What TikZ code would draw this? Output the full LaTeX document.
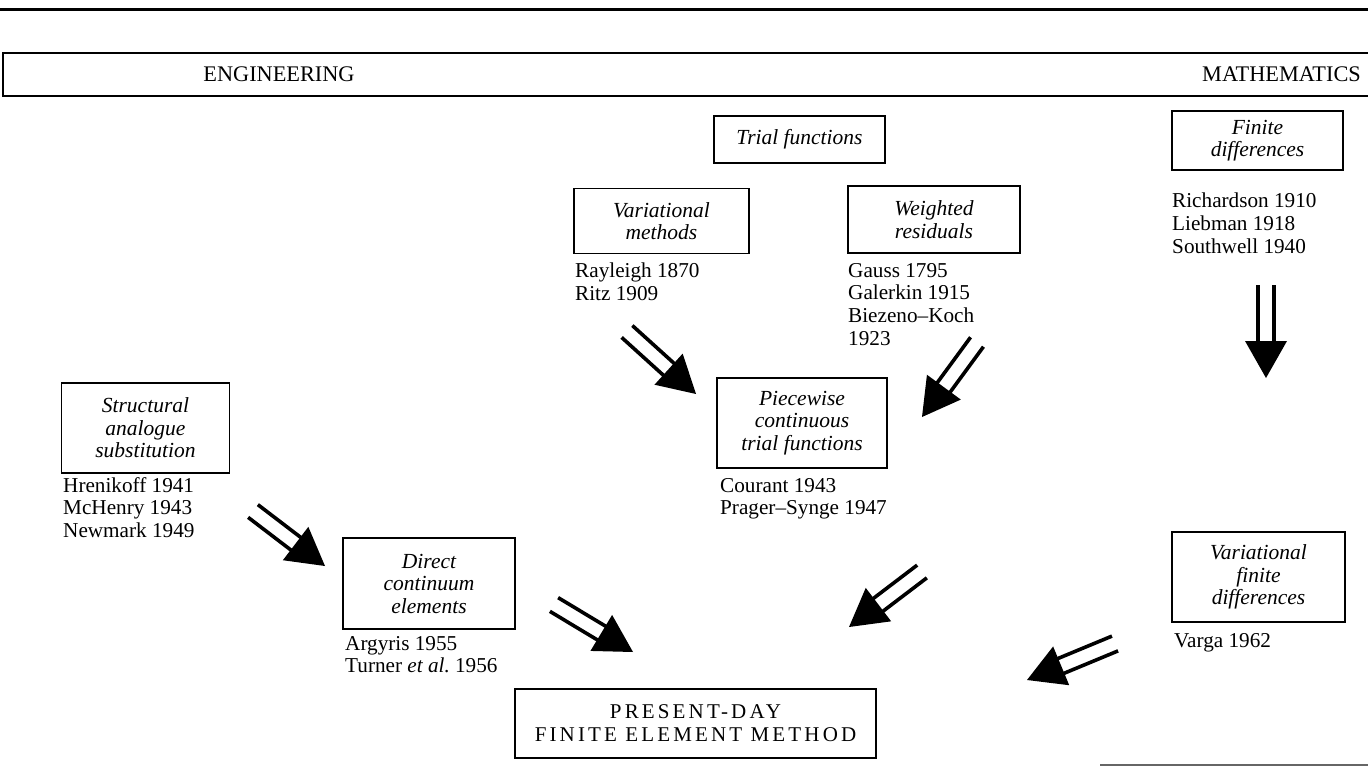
\documentclass[tikz,border=0pt]{standalone}
\usepackage{fontspec}
\setmainfont{Liberation Serif}
\usetikzlibrary{calc}

\newcommand\topicfont{\itshape\fontsize{21.5}{22.5}\selectfont}
\newcommand\listfont{\frenchspacing\fontsize{21.2}{22.7}\selectfont}
\newcommand\bannerfont{\fontsize{22.3}{23}\selectfont}
\newcommand\femfont{\fontsize{21}{23}\selectfont\addfontfeature{LetterSpace=15}}

% geometry of the double-shafted arrows
\newcommand\headlen{37pt}
\newcommand\headhalf{21pt}
\newcommand\shaftgap{8pt}

% \dblarrow{start}{tip}: two parallel shafts and a filled triangular head
\newcommand\dblarrow[2]{%
  \coordinate (hb) at ($(#2)!\headlen!(#1)$);
  \coordinate (hi) at ($(#2)!\headlen-6pt!(#1)$);
  \draw[arrowline] ($(#1)!\shaftgap!90:(#2)$) -- ($(hi)!\shaftgap!-90:(#1)$);
  \draw[arrowline] ($(#1)!\shaftgap!-90:(#2)$) -- ($(hi)!\shaftgap!90:(#1)$);
  \fill ($(hb)!\headhalf!90:(#2)$) -- (#2) -- ($(hb)!\headhalf!-90:(#2)$) -- cycle;
}

\tikzset{
  every node/.style={inner sep=0pt},
  topic/.style={draw, line width=1.5pt, align=center, font=\topicfont},
  names/.style={align=left, anchor=north west, font=\listfont},
  arrowline/.style={line width=3.6pt},
  heavyrule/.style={line width=3pt},
  bannerline/.style={line width=2pt},
}

\begin{document}
\begin{tikzpicture}[x=1pt, y=-1pt]
\useasboundingbox (0,0) rectangle (1368,770);

% page rules and the banner strip
\draw[heavyrule] (0,10) -- (1368,10);
\draw[bannerline] (1368,53) -- (3,53) -- (3,96) -- (1368,96);
\node[font=\bannerfont] (eng) at (279,74) {ENGINEERING};
\node[font=\bannerfont, anchor=east] (math) at (1361,74) {MATHEMATICS};
\draw[line width=1.2pt, black!60] (1100,765) -- (1368,765);

% topic boxes
\node[topic, minimum width=171pt, minimum height=47pt] (trial) at (799.5,139.5) {Trial functions};
\node[topic, minimum width=175pt, minimum height=65pt] (varm) at (661.5,221) {Variational\\methods};
\node[topic, minimum width=172pt, minimum height=67pt] (wres) at (934,219.5) {Weighted\\residuals};
\node[topic, minimum width=171pt, minimum height=59pt] (fdiff) at (1257.5,140.5) {Finite\\differences};
\node[topic, minimum width=168pt, minimum height=90pt] (struct) at (145.5,428) {Structural\\analogue\\substitution};
\node[topic, minimum width=170pt, minimum height=90pt] (pcw) at (802,423) {Piecewise\\continuous\\trial functions};
\node[topic, minimum width=172pt, minimum height=91pt] (direct) at (429,583.5) {Direct\\continuum\\elements};
\node[topic, minimum width=173pt, minimum height=90pt] (vfd) at (1258.5,577) {Variational\\finite\\differences};
\node[topic, font=\femfont, minimum width=361pt, minimum height=69pt] (fem) at (695.5,723.5) {PRESENT-DAY\\FINITE ELEMENT METHOD};

% contributors under each box
\node[names] (rayl) at (575,263) {Rayleigh 1870\\Ritz 1909};
\node[names] (gauss) at (848,263) {Gauss 1795\\Galerkin 1915\\Biezeno–Koch\\1923};
\node[names] (rich) at (1172,193) {Richardson 1910\\Liebman 1918\\Southwell 1940};
\node[names] (hren) at (63,477) {Hrenikoff 1941\\McHenry 1943\\Newmark 1949};
\node[names] (cour) at (720,478) {Courant 1943\\Prager–Synge 1947};
\node[names] (argy) at (345,636) {Argyris 1955\\Turner \textit{et al.} 1956};
\node[names] (varga) at (1174,633) {Varga 1962};

% arrow end points
\coordinate (a1s) at (627,331.5);   \coordinate (a1t) at (696,394);
\coordinate (a2s) at (977,342);     \coordinate (a2t) at (922,417);
\coordinate (a3s) at (922,571.5);   \coordinate (a3t) at (849,627);
\coordinate (a4s) at (554,604.5);   \coordinate (a4t) at (633,652);
\coordinate (a5s) at (253,511);     \coordinate (a5t) at (325,566);
\coordinate (a6s) at (1115,643.5);  \coordinate (a6t) at (1027,680);
\coordinate (a7s) at (1266,285);    \coordinate (a7t) at (1266,378);

\dblarrow{a1s}{a1t}
\dblarrow{a2s}{a2t}
\dblarrow{a3s}{a3t}
\dblarrow{a4s}{a4t}
\dblarrow{a5s}{a5t}
\dblarrow{a6s}{a6t}
\dblarrow{a7s}{a7t}
\end{tikzpicture}
\end{document}
